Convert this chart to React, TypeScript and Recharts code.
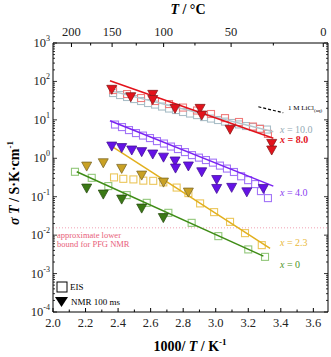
import React from "react";
import { ComposedChart, XAxis, YAxis, Scatter, ReferenceLine } from "recharts";

// ---- axis tick definitions ----
const xTicks = [2.0, 2.1, 2.2, 2.3, 2.4, 2.5, 2.6, 2.7, 2.8, 2.9, 3.0, 3.1, 3.2, 3.3, 3.4, 3.5, 3.6];
const tempTicksC = [200, 175, 150, 125, 100, 75, 50, 25, 0];
const decades = [-4, -3, -2, -1, 0, 1, 2, 3];

// ---- data: x = 1000/T (K^-1), y = sigma*T (S K cm^-1) ----
const eis10 = [
  { x: 2.369, y: 49.9 }, { x: 2.412, y: 44.2 }, { x: 2.455, y: 39.3 }, { x: 2.498, y: 34.8 },
  { x: 2.541, y: 30.9 }, { x: 2.584, y: 27.4 }, { x: 2.627, y: 25.0 }, { x: 2.670, y: 22.2 },
  { x: 2.713, y: 19.7 }, { x: 2.756, y: 18.0 }, { x: 2.799, y: 16.0 }, { x: 2.842, y: 14.6 },
  { x: 2.885, y: 13.3 }, { x: 2.928, y: 11.8 }, { x: 2.971, y: 10.8 }, { x: 3.014, y: 9.9 },
  { x: 3.057, y: 9.0 }, { x: 3.100, y: 8.3 }, { x: 3.143, y: 7.6 }, { x: 3.186, y: 6.9 },
  { x: 3.229, y: 6.5 }, { x: 3.272, y: 5.9 }, { x: 3.315, y: 5.6 },
];
const fit10 = [{ x: 2.363, y: 56 }, { x: 3.354, y: 4.9 }];

const eis8 = [
  { x: 2.369, y: 59.7 }, { x: 2.455, y: 47.0 }, { x: 2.541, y: 37.0 }, { x: 2.627, y: 30.9 },
  { x: 2.713, y: 25.8 }, { x: 2.799, y: 20.9 }, { x: 2.885, y: 17.5 }, { x: 2.971, y: 14.2 },
  { x: 3.057, y: 11.1 }, { x: 3.143, y: 8.8 }, { x: 3.229, y: 6.7 }, { x: 3.272, y: 5.8 },
  { x: 3.321, y: 4.3 },
];
const nmr8 = [
  { x: 2.361, y: 62.3 }, { x: 2.478, y: 40.0 }, { x: 2.613, y: 46.1 }, { x: 2.613, y: 33.8 },
  { x: 2.750, y: 19.9 }, { x: 2.904, y: 19.9 }, { x: 2.914, y: 13.3 }, { x: 3.088, y: 5.7 },
  { x: 3.344, y: 2.44 }, { x: 3.344, y: 1.64 },
];
const fit8 = [{ x: 2.350, y: 104 }, { x: 3.354, y: 3.3 }];

const eis4 = [
  { x: 2.381, y: 7.55 }, { x: 2.424, y: 6.49 }, { x: 2.467, y: 5.42 }, { x: 2.510, y: 4.53 },
  { x: 2.553, y: 3.90 }, { x: 2.596, y: 3.36 }, { x: 2.639, y: 2.80 }, { x: 2.682, y: 2.42 },
  { x: 2.725, y: 2.02 }, { x: 2.768, y: 1.74 }, { x: 2.811, y: 1.45 }, { x: 2.854, y: 1.21 },
  { x: 2.897, y: 1.04 }, { x: 2.940, y: 0.90 }, { x: 2.983, y: 0.77 }, { x: 3.026, y: 0.645 },
  { x: 3.069, y: 0.54 }, { x: 3.112, y: 0.44 }, { x: 3.156, y: 0.34 }, { x: 3.199, y: 0.27 },
  { x: 3.242, y: 0.213 }, { x: 3.278, y: 0.14 }, { x: 3.321, y: 0.092 },
];
const nmr4 = [
  { x: 2.361, y: 2.08 }, { x: 2.422, y: 1.90 }, { x: 2.484, y: 1.64 }, { x: 2.545, y: 1.49 },
  { x: 2.613, y: 1.29 }, { x: 2.679, y: 1.07 }, { x: 2.750, y: 0.85 }, { x: 2.753, y: 0.556 },
  { x: 2.832, y: 0.63 }, { x: 2.914, y: 0.445 }, { x: 3.006, y: 0.28 }, { x: 3.006, y: 0.164 },
  { x: 3.098, y: 0.175 }, { x: 3.191, y: 0.134 }, { x: 3.293, y: 0.164 },
];
const fit4 = [{ x: 2.350, y: 9.48 }, { x: 3.354, y: 0.189 }];

const eis23 = [
  { x: 2.375, y: 0.318 }, { x: 2.432, y: 0.292 }, { x: 2.494, y: 0.282 }, { x: 2.555, y: 0.262 },
  { x: 2.616, y: 0.259 }, { x: 2.678, y: 0.236 }, { x: 2.760, y: 0.173 }, { x: 2.832, y: 0.124 },
  { x: 2.904, y: 0.067 }, { x: 2.990, y: 0.0397 }, { x: 3.088, y: 0.0222 }, { x: 3.180, y: 0.01127 },
  { x: 3.283, y: 0.0055 },
];
const nmr23 = [
  { x: 2.207, y: 0.626 }, { x: 2.309, y: 0.764 }, { x: 2.422, y: 0.546 }, { x: 2.545, y: 0.365 },
  { x: 2.679, y: 0.24 }, { x: 2.832, y: 0.132 },
];
const fit23 = [{ x: 2.350, y: 2.21 }, { x: 3.334, y: 0.00451 }];

const eis0 = [
  { x: 2.135, y: 0.445 }, { x: 2.238, y: 0.31 }, { x: 2.340, y: 0.189 }, { x: 2.453, y: 0.110 },
  { x: 2.576, y: 0.0693 }, { x: 2.709, y: 0.0381 }, { x: 2.852, y: 0.0209 }, { x: 3.016, y: 0.00942 },
  { x: 3.200, y: 0.00425 }, { x: 3.303, y: 0.00272 },
];
const nmr0 = [
  { x: 2.207, y: 0.1675 }, { x: 2.309, y: 0.117 }, { x: 2.422, y: 0.0866 }, { x: 2.545, y: 0.0505 },
  { x: 2.678, y: 0.0286 },
];
const fit0 = [{ x: 2.146, y: 0.445 }, { x: 3.293, y: 0.00284 }];

const licl = [{ x: 3.262, y: 21.9 }, { x: 3.415, y: 15.3 }];
const pfgLimit = 0.0155;

// ---- derived axis tick lists ----
const topTicks = tempTicksC.map((c) => 1000 / (c + 273.15));
const yTicks: number[] = [];
decades.forEach((d) => {
  if (d === 3) { yTicks.push(1000); return; }
  for (let m = 1; m <= 9; m++) yTicks.push(m * Math.pow(10, d));
});

const FONT = '"Liberation Serif", "Times New Roman", serif';
const W = 331;
const H = 357;

const isDecade = (v: number) => Math.abs(Math.log10(v) - Math.round(Math.log10(v))) < 1e-6;

const BottomTick = (p: any) => {
  const v = p.payload.value;
  const major = Math.round(v * 10) % 2 === 0;
  return (
    <g>
      <line x1={p.x} y1={p.y} x2={p.x} y2={p.y - (major ? 4 : 2.5)} stroke="#000" strokeWidth={1} />
      {major && (
        <text x={p.x} y={p.y + 15} textAnchor="middle" fontSize={12.5} fill="#222" fontFamily={FONT}>
          {v.toFixed(1)}
        </text>
      )}
    </g>
  );
};

const TopTick = (p: any) => {
  const v = p.payload.value;
  const c = Math.round(1000 / v - 273.15);
  const major = c % 50 === 0;
  return (
    <g>
      <line x1={p.x} y1={p.y} x2={p.x} y2={p.y + (major ? 4 : 2.5)} stroke="#000" strokeWidth={1} />
      {major && (
        <text x={p.x} y={p.y - 7} textAnchor="middle" fontSize={12.5} fill="#222" fontFamily={FONT}>
          {c}
        </text>
      )}
    </g>
  );
};

const LeftTick = (p: any) => {
  const v = p.payload.value;
  const major = isDecade(v);
  const e = Math.round(Math.log10(v));
  return (
    <g>
      <line x1={p.x} y1={p.y} x2={p.x + (major ? 4 : 2)} y2={p.y} stroke="#000" strokeWidth={0.8} />
      {major && (
        <text x={p.x - 3} y={p.y + 4} textAnchor="end" fontSize={12.5} fill="#222" fontFamily={FONT}>
          10
          <tspan dy={-6} fontSize={8}>{e}</tspan>
        </text>
      )}
    </g>
  );
};

const RightTick = (p: any) => {
  const v = p.payload.value;
  const major = isDecade(v);
  return <line x1={p.x} y1={p.y} x2={p.x - (major ? 4 : 2)} y2={p.y} stroke="#000" strokeWidth={0.8} />;
};

const square = (color: string) => (p: any) =>
  <rect x={p.cx - 3.5} y={p.cy - 3.5} width={7} height={7} fill="none" stroke={color} strokeWidth={1.1} />;
const tri = (fill: string, stroke: string) => (p: any) =>
  <polygon points={`${p.cx - 5},${p.cy - 4} ${p.cx + 5},${p.cy - 4} ${p.cx},${p.cy + 5}`} fill={fill} stroke={stroke} strokeWidth={0.8} />;
const noShape = () => <g />;

const C = {
  red: "#e3121b", redSq: "#f07a7a", grey: "#a9bec7", greyLine: "#b4c6cd",
  purple: "#7a22f2", purpleSq: "#a274f7", purpleTri: "#6512e6",
  gold: "#e2b01e", goldSq: "#ebc65a", goldTri: "#c9a124",
  green: "#3f8c16", greenSq: "#92c77a", greenTri: "#3b7a15",
};

export default function App() {
  const common = { xAxisId: "b", yAxisId: "l", isAnimationActive: false } as any;
  return (
    <div style={{ position: "absolute", left: 0, top: 0, width: W, height: H, fontFamily: FONT, background: "#fff" }}>
      <ComposedChart width={W} height={H} margin={{ top: 0, right: 0, bottom: 0, left: 0 }}>
        <XAxis xAxisId="b" dataKey="x" type="number" domain={[2.0, 3.69]} ticks={xTicks} interval={0}
          tick={BottomTick} tickSize={0} tickMargin={0} tickLine={false} height={45}
          axisLine={{ stroke: "#000" }} allowDataOverflow />
        <XAxis xAxisId="t" orientation="top" dataKey="x" type="number" domain={[2.0, 3.69]} ticks={topTicks}
          interval={0} tick={TopTick} tickSize={0} tickMargin={0} tickLine={false} height={43}
          axisLine={{ stroke: "#000" }} allowDataOverflow />
        <YAxis yAxisId="l" dataKey="y" type="number" scale="log" domain={[1e-4, 1e3]} ticks={yTicks}
          interval={0} tick={LeftTick} tickSize={0} tickMargin={0} tickLine={false} width={53}
          axisLine={{ stroke: "#000" }} allowDataOverflow />
        <YAxis yAxisId="r" orientation="right" dataKey="y" type="number" scale="log" domain={[1e-4, 1e3]}
          ticks={yTicks} interval={0} tick={RightTick} tickSize={0} tickMargin={0} tickLine={false} width={3}
          axisLine={{ stroke: "#000" }} allowDataOverflow />

        <ReferenceLine {...common} y={pfgLimit} stroke="#f0a0b4" strokeDasharray="1 2" strokeWidth={1} />

        <Scatter {...common} data={eis10} shape={square(C.grey)} />
        <Scatter {...common} data={eis8} shape={square(C.redSq)} />
        <Scatter {...common} data={eis4} shape={square(C.purpleSq)} />
        <Scatter {...common} data={eis23} shape={square(C.goldSq)} />
        <Scatter {...common} data={eis0} shape={square(C.greenSq)} />

        <Scatter {...common} data={fit10} shape={noShape} line={{ stroke: C.greyLine, strokeWidth: 1.5 }} />
        <Scatter {...common} data={fit8} shape={noShape} line={{ stroke: C.red, strokeWidth: 1.6 }} />
        <Scatter {...common} data={fit4} shape={noShape} line={{ stroke: C.purple, strokeWidth: 1.5 }} />
        <Scatter {...common} data={fit23} shape={noShape} line={{ stroke: C.gold, strokeWidth: 1.5 }} />
        <Scatter {...common} data={fit0} shape={noShape} line={{ stroke: C.green, strokeWidth: 1.5 }} />
        <Scatter {...common} data={licl} shape={noShape} line={{ stroke: "#000", strokeWidth: 1.2, strokeDasharray: "3 2" }} />

        <Scatter {...common} data={nmr8} shape={tri(C.red, "#8a1a1a")} />
        <Scatter {...common} data={nmr4} shape={tri(C.purpleTri, "#45119a")} />
        <Scatter {...common} data={nmr23} shape={tri(C.goldTri, "#7d6a2a")} />
        <Scatter {...common} data={nmr0} shape={tri(C.greenTri, "#2a4d12")} />
      </ComposedChart>

      <svg width={W} height={H} style={{ position: "absolute", left: 0, top: 0, pointerEvents: "none" }} fontFamily={FONT}>
        <text x={188} y={14} textAnchor="middle" fontSize={14} fontWeight="bold">
          <tspan fontStyle="italic">T</tspan> / °C
        </text>
        <text x={190} y={351} textAnchor="middle" fontSize={14} fontWeight="bold">
          1000/ <tspan fontStyle="italic">T</tspan> / K<tspan dy={-6} fontSize={9}>-1</tspan>
        </text>
        <text transform="translate(19,183) rotate(-90)" textAnchor="middle" fontSize={14} fontWeight="bold">
          <tspan fontStyle="italic">σ T</tspan> / S·K·cm<tspan dy={-6} fontSize={9}>-1</tspan>
        </text>

        <text x={280} y={133} fontSize={10} fill="#93aab5"><tspan fontStyle="italic">x</tspan> = 10.0</text>
        <text x={280} y={143} fontSize={10} fill={C.red} fontWeight="bold"><tspan fontStyle="italic">x</tspan> = 8.0</text>
        <text x={280} y={196} fontSize={10} fill="#8a40f0"><tspan fontStyle="italic">x</tspan> = 4.0</text>
        <text x={280} y={246} fontSize={10} fill="#e9b93a"><tspan fontStyle="italic">x</tspan> = 2.3</text>
        <text x={280} y={268} fontSize={10} fill="#4d9526"><tspan fontStyle="italic">x</tspan> = 0</text>
        <text x={288} y={110} fontSize={7} fill="#000">1 M LiCl<tspan dy={2} fontSize={5}>(aq)</tspan></text>

        <text x={57} y={238} fontSize={8.5} fill="#e8607a">approximate lower</text>
        <text x={57} y={247} fontSize={8.5} fill="#e8607a">bound for PFG NMR</text>

        <rect x={57} y={282} width={10} height={10} fill="none" stroke="#000" strokeWidth={1} />
        <text x={70} y={290} fontSize={9} fill="#000">EIS</text>
        <polygon points="55,297 68,297 61.5,307" fill="#000" />
        <text x={71} y={305} fontSize={9} fill="#000">NMR 100 ms</text>
      </svg>
    </div>
  );
}
